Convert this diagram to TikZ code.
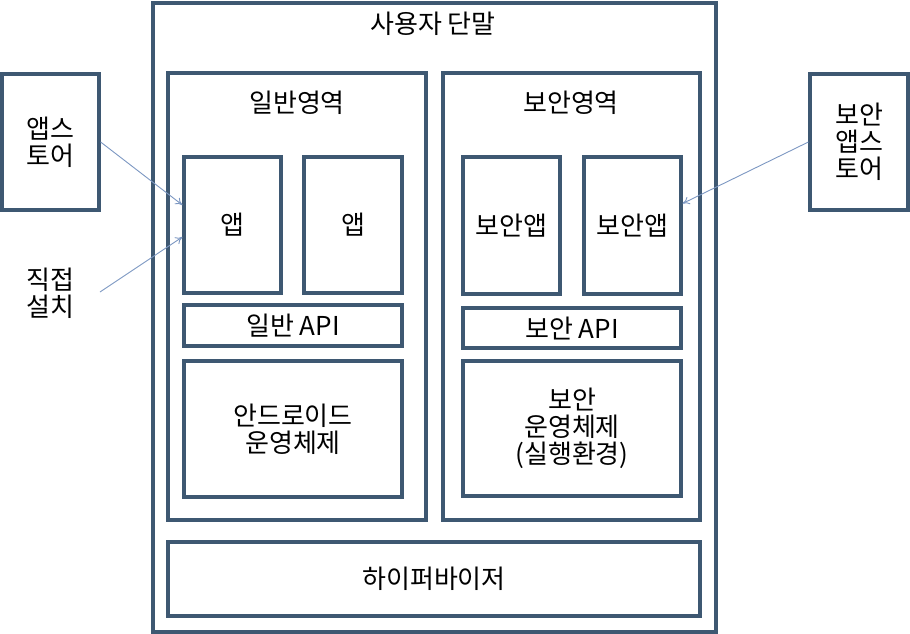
\documentclass[tikz,border=0pt]{standalone}
\usepackage{fontspec}
\setmainfont{Noto Sans CJK KR}
\usepackage{tikz}
\usetikzlibrary{arrows.meta}

\definecolor{boxline}{HTML}{3E5872}
\definecolor{arrline}{HTML}{7C97C2}

\tikzset{
  block/.style={draw=boxline,line width=3.2pt,inner sep=0pt,align=center},
  txt/.style={inner sep=0pt,align=center},
  feed/.style={draw=arrline,line width=0.9pt,-{To[length=7pt,width=8pt]}}
}

\begin{document}
\begin{tikzpicture}[x=1pt,y=-1pt,font=\fontsize{26}{27}\selectfont]
  \useasboundingbox (0,0) rectangle (910,634);
  %
  % Outer device
  \node[block,minimum width=563,minimum height=629] (device) at (434.5,317.5) {};
  \node[txt] (devicelbl) at (433,24) {사용자 단말};
  %
  % General area
  \node[block,minimum width=258,minimum height=447] (normal) at (297,296.5) {};
  \node[txt] (normallbl) at (297,103) {일반영역};
  \node[block,minimum width=97,minimum height=136] (app1) at (232.5,225) {앱};
  \node[block,minimum width=98,minimum height=136] (app2) at (353,225) {앱};
  \node[block,minimum width=218,minimum height=41] (napi) at (293,325.5) {일반 API};
  \node[block,minimum width=218,minimum height=136] (nos) at (293,429) {안드로이드\\운영체제};
  %
  % Secure area
  \node[block,minimum width=257,minimum height=447] (secure) at (571.5,296.5) {};
  \node[txt] (securelbl) at (571,103) {보안영역};
  \node[block,minimum width=97,minimum height=137] (sapp1) at (511.5,225.5) {보안앱};
  \node[block,minimum width=97,minimum height=137] (sapp2) at (632.5,225.5) {보안앱};
  \node[block,minimum width=218,minimum height=40] (sapi) at (572,328) {보안 API};
  \node[block,minimum width=218,minimum height=135] (sos) at (572,428.5) {보안\\운영체제\\(실행환경)};
  %
  % Hypervisor
  \node[block,minimum width=532,minimum height=74] (hyper) at (434,579) {하이퍼바이저};
  %
  % Outside sources
  \node[block,minimum width=97,minimum height=136] (store) at (50.5,142) {앱스\\토어};
  \node[block,minimum width=98,minimum height=136] (sstore) at (859,142) {보안\\앱스\\토어};
  \node[txt] (direct) at (50,293) {직접\\설치};
  \coordinate (directout) at (100,292);
  %
  % Install paths
  \draw[feed] (store.east) -- ([yshift=20pt]app1.west);
  \draw[feed] (directout) -- ([yshift=-12pt]app1.west);
  \draw[feed] (sstore.west) -- ([yshift=22pt]sapp2.east);
  %
\end{tikzpicture}
\end{document}
